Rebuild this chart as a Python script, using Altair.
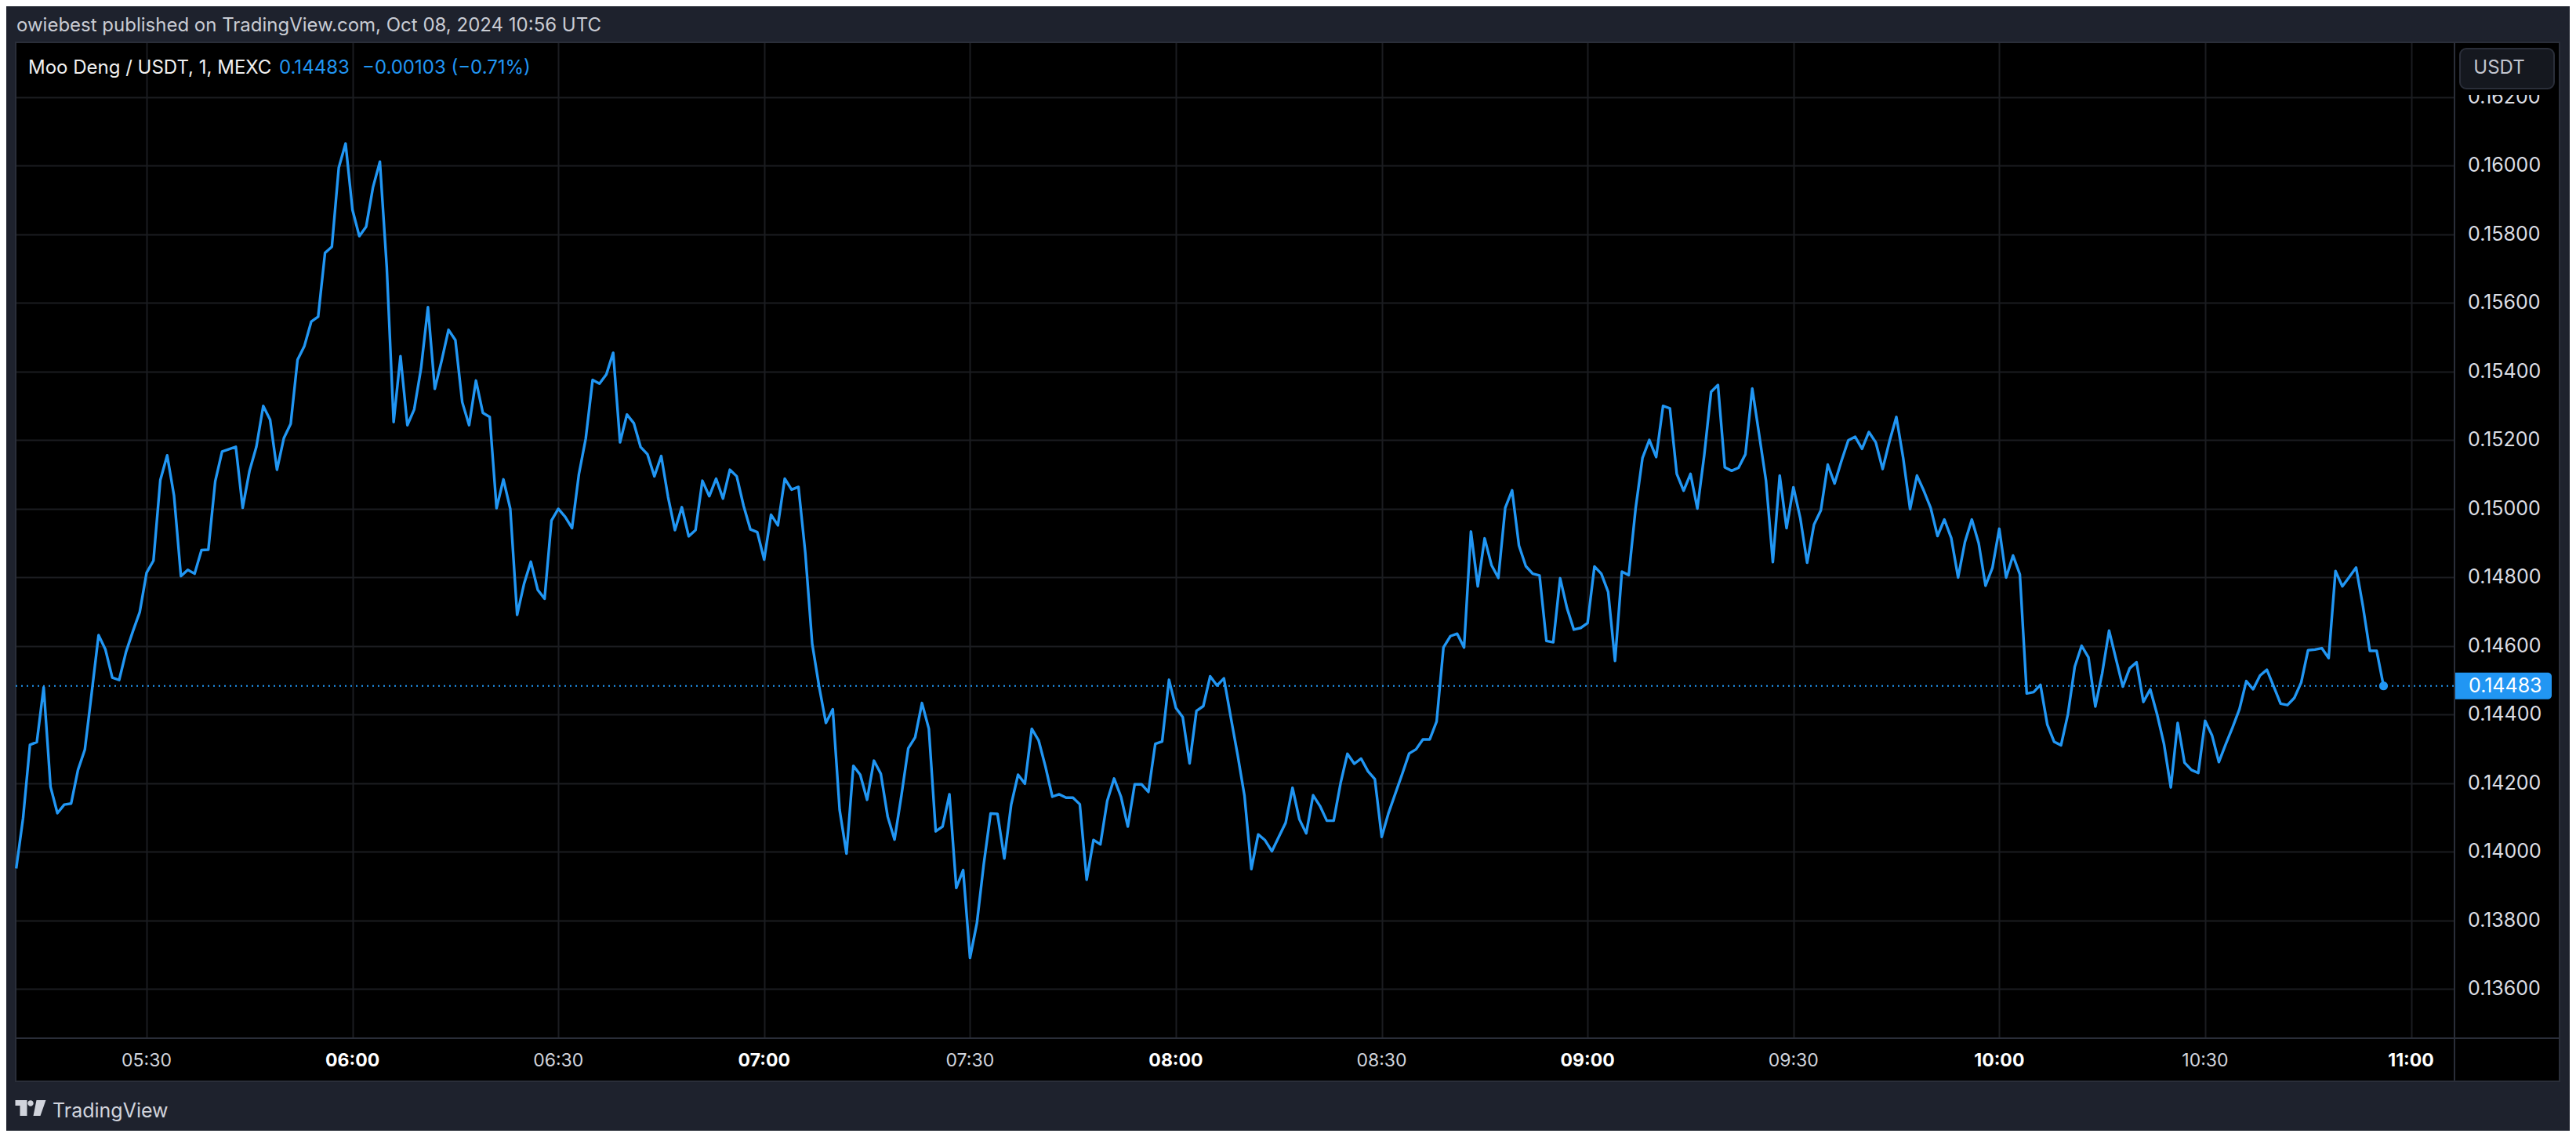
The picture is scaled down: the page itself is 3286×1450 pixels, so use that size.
import altair as alt
import pandas as pd

# ---------------- data (1-minute closes, Moo Deng / USDT, MEXC) ----------------
START_MINUTE = "05:11"
prices_05 = [0.13951, 0.14098, 0.14311, 0.14319, 0.14479, 0.14189, 0.14112, 0.14137, 0.14140, 0.14238,
             0.14297, 0.14463, 0.14631, 0.14589, 0.14507, 0.14500, 0.14582, 0.14642, 0.14698,
             0.14813, 0.14848, 0.15083, 0.15155, 0.15037, 0.14803, 0.14821, 0.14810, 0.14879, 0.14880,
             0.15079, 0.15166, 0.15173, 0.15180, 0.15002, 0.15110, 0.15180, 0.15299, 0.15259, 0.15113,
             0.15205, 0.15247, 0.15434, 0.15474, 0.15545, 0.15559, 0.15745, 0.15763, 0.15993, 0.16064]
prices_06 = [0.15871, 0.15794, 0.15822, 0.15937, 0.16011, 0.15703, 0.15252, 0.15444, 0.15243, 0.15289,
             0.15409, 0.15587, 0.15349, 0.15431, 0.15521, 0.15491, 0.15310, 0.15243, 0.15373, 0.15279,
             0.15267, 0.15001, 0.15085, 0.14999, 0.14690, 0.14780, 0.14845, 0.14763, 0.14737, 0.14965,
             0.14999, 0.14976, 0.14943, 0.15100, 0.15204, 0.15375, 0.15364, 0.15391, 0.15454, 0.15193,
             0.15274, 0.15249, 0.15179, 0.15158, 0.15094, 0.15153, 0.15033, 0.14937, 0.15004, 0.14919,
             0.14937, 0.15081, 0.15036, 0.15087, 0.15029, 0.15113, 0.15094, 0.15008, 0.14939, 0.14931]
prices_07 = [0.14851, 0.14982, 0.14951, 0.15087, 0.15055, 0.15063, 0.14870, 0.14606, 0.14482, 0.14375,
             0.14415, 0.14121, 0.13994, 0.14250, 0.14224, 0.14151, 0.14265, 0.14227, 0.14102, 0.14035,
             0.14163, 0.14301, 0.14333, 0.14433, 0.14358, 0.14059, 0.14073, 0.14167, 0.13894, 0.13946,
             0.13690, 0.13791, 0.13963, 0.14111, 0.14110, 0.13980, 0.14137, 0.14224, 0.14198, 0.14358,
             0.14324, 0.14247, 0.14160, 0.14167, 0.14157, 0.14157, 0.14138, 0.13918, 0.14034, 0.14021,
             0.14148, 0.14213, 0.14160, 0.14073, 0.14196, 0.14196, 0.14174, 0.14314, 0.14321, 0.14501]
prices_08 = [0.14419, 0.14392, 0.14257, 0.14410, 0.14424, 0.14511, 0.14484, 0.14505, 0.14392, 0.14282,
             0.14163, 0.13949, 0.14050, 0.14033, 0.14001, 0.14043, 0.14084, 0.14186, 0.14094, 0.14053,
             0.14164, 0.14133, 0.14090, 0.14090, 0.14199, 0.14285, 0.14256, 0.14271, 0.14234, 0.14211,
             0.14043, 0.14113, 0.14170, 0.14227, 0.14286, 0.14298, 0.14327, 0.14327, 0.14379, 0.14595,
             0.14628, 0.14635, 0.14595, 0.14933, 0.14773, 0.14913, 0.14835, 0.14798, 0.15002, 0.15053,
             0.14892, 0.14832, 0.14810, 0.14805, 0.14614, 0.14610, 0.14797, 0.14710, 0.14647, 0.14652]
prices_09 = [0.14666, 0.14831, 0.14810, 0.14757, 0.14556, 0.14816, 0.14806, 0.15000, 0.15147, 0.15200,
             0.15150, 0.15299, 0.15292, 0.15101, 0.15052, 0.15101, 0.15000, 0.15155, 0.15340, 0.15360,
             0.15120, 0.15110, 0.15119, 0.15158, 0.15350, 0.15216, 0.15082, 0.14844, 0.15096, 0.14943,
             0.15062, 0.14972, 0.14842, 0.14953, 0.14995, 0.15128, 0.15073, 0.15139, 0.15199, 0.15209,
             0.15174, 0.15223, 0.15193, 0.15115, 0.15196, 0.15267, 0.15147, 0.14998, 0.15096, 0.15052,
             0.15002, 0.14920, 0.14968, 0.14914, 0.14799, 0.14903, 0.14968, 0.14899, 0.14775, 0.14827]
prices_10 = [0.14941, 0.14799, 0.14863, 0.14808, 0.14461, 0.14465, 0.14486, 0.14370, 0.14320, 0.14310,
             0.14400, 0.14539, 0.14600, 0.14566, 0.14423, 0.14520, 0.14644, 0.14562, 0.14481, 0.14534,
             0.14552, 0.14436, 0.14473, 0.14400, 0.14314, 0.14187, 0.14375, 0.14259, 0.14238, 0.14229,
             0.14381, 0.14339, 0.14261, 0.14313, 0.14362, 0.14415, 0.14497, 0.14473, 0.14513, 0.14530,
             0.14481, 0.14431, 0.14427, 0.14448, 0.14493, 0.14587, 0.14589, 0.14593, 0.14564, 0.14818,
             0.14773, 0.14800, 0.14828, 0.14715, 0.14585, 0.14585, 0.14483]

last_price = 0.14483
header_text = "owiebest published on TradingView.com, Oct 08, 2024 10:56 UTC"
symbol_text = "Moo Deng / USDT, 1, MEXC"
last_text = "0.14483"
change_text = "\u22120.00103 (\u22120.71%)"
currency_text = "USDT"
brand_text = "TradingView"

time_labels = ["05:30", "06:00", "06:30", "07:00", "07:30", "08:00",
               "08:30", "09:00", "09:30", "10:00", "10:30", "11:00"]
price_ticks = [0.136, 0.138, 0.140, 0.142, 0.144, 0.146, 0.148,
               0.150, 0.152, 0.154, 0.156, 0.158, 0.160, 0.162]

# ---------------- tables ----------------
def to_min(s):
    h, m = s.split(":")
    return int(h) * 60 + int(m)

prices = prices_05 + prices_06 + prices_07 + prices_08 + prices_09 + prices_10
m0 = to_min(START_MINUTE)
line_df = pd.DataFrame({"minute": [m0 + i for i in range(len(prices))], "price": prices})
last_df = line_df.tail(1)
tick_df = pd.DataFrame({"minute": [to_min(t) for t in time_labels], "label": time_labels})
tick_df["bold"] = tick_df["minute"] % 60 == 0
ylab_df = pd.DataFrame({"v": price_ticks, "label": [f"{v:.5f}" for v in price_ticks]})
lp_df = pd.DataFrame({"p": [last_price], "label": [last_text]})
one = pd.DataFrame({"a": [0]})

# ---------------- geometry ----------------
W, H = 3111, 1270
BLUE = "#2196f3"
GRID = "#1b1c20"
PANEL_BORDER = "#2a2e39"
FONT = "Inter"

xs = alt.Scale(domain=[310.92, 666.34], nice=False, zero=False)
ys = alt.Scale(domain=[0.13456, 0.163589], nice=False, zero=False)
x_axis = alt.Axis(values=[to_min(t) for t in time_labels], grid=True, labels=False,
                  ticks=False, domain=False, title=None, gridColor=GRID, gridWidth=2)
y_axis = alt.Axis(values=price_ticks, grid=True, labels=False, ticks=False,
                  domain=False, title=None, gridColor=GRID, gridWidth=2)
X = alt.X("minute:Q", scale=xs, axis=x_axis)
Y = alt.Y("price:Q", scale=ys, axis=y_axis)


def box(x1, x2, y1, y2, color, **kw):
    return alt.Chart(one).mark_rect(color=color, **kw).encode(
        x=alt.value(x1), x2=alt.value(x2), y=alt.value(y1), y2=alt.value(y2))


def label(text, x, y, size=24, color="#d1d4dc", align="left", weight="normal"):
    return alt.Chart(one).mark_text(text=text, align=align, baseline="middle", font=FONT,
                                    fontSize=size, color=color, fontWeight=weight).encode(
        x=alt.value(x), y=alt.value(y))


line = alt.Chart(line_df).mark_line(color=BLUE, strokeWidth=3.4, strokeJoin="round").encode(x=X, y=Y)

dot = alt.Chart(last_df).mark_circle(color=BLUE, size=125, opacity=1).encode(x=X, y=Y)

price_rule = alt.Chart(lp_df).mark_rule(color=BLUE, strokeWidth=2, strokeDash=[2, 5]).encode(
    y=alt.Y("p:Q", scale=ys, axis=y_axis), x=alt.value(0), x2=alt.value(W))

# panel pieces outside the plot area
price_col = box(W, W + 134, 0, H + 55, "#000000")
time_row = box(0, W, H, H + 55, "#000000")
sep_v = alt.Chart(one).mark_rule(color=PANEL_BORDER, strokeWidth=2).encode(
    x=alt.value(W), y=alt.value(0), y2=alt.value(H + 55))
sep_h = alt.Chart(one).mark_rule(color=PANEL_BORDER, strokeWidth=2).encode(
    y=alt.value(H), x=alt.value(0), x2=alt.value(W + 134))
border = box(0, W + 134, 0, H + 55, PANEL_BORDER, filled=False, strokeWidth=2)

ylabels = alt.Chart(ylab_df).mark_text(align="left", baseline="middle", font=FONT,
                                       fontSize=25, color="#dcdee4").encode(
    y=alt.Y("v:Q", scale=ys, axis=y_axis), x=alt.value(W + 17), text="label:N")

tick_reg = alt.Chart(tick_df).transform_filter("!datum.bold").mark_text(
    align="center", baseline="middle", font=FONT, fontSize=23, color="#d1d4dc").encode(
    x=X, y=alt.value(H + 29), text="label:N")
tick_bold = alt.Chart(tick_df).transform_filter("datum.bold").mark_text(
    align="center", baseline="middle", font=FONT, fontSize=23, color="#ffffff",
    fontWeight="bold").encode(
    x=X, y=alt.value(H + 29), text="label:N")

lp_box = alt.Chart(lp_df).mark_rect(color=BLUE, yOffset=-17, y2Offset=17,
                                    cornerRadiusTopRight=5, cornerRadiusBottomRight=5).encode(
    y=alt.Y("p:Q", scale=ys, axis=y_axis), y2="p:Q", x=alt.value(W + 1), x2=alt.value(W + 124))
lp_text = alt.Chart(lp_df).mark_text(align="left", baseline="middle", font=FONT, fontSize=25,
                                     color="#ffffff").encode(
    y=alt.Y("p:Q", scale=ys, axis=y_axis), x=alt.value(W + 18), text="label:N")

mask = box(W + 2, W + 132, 1, 67, "#000000")
usdt_btn = box(W + 7, W + 127, 8, 59, "#15181f", stroke=PANEL_BORDER, strokeWidth=2, cornerRadius=8)
usdt_txt = label(currency_text, W + 57, 33, size=24, color="#c3c6cf", align="center")

header = label(header_text, 1, -21, size=24, color="#c9ccd4")
sym = label(symbol_text, 16, 33, size=24, color="#f0f0f0")
lastv = label(last_text, 336, 33, size=24, color=BLUE)
chg = label(change_text, 442, 33, size=24, color=BLUE)

logo_path = ("M-1,-0.513 L-0.231,-0.513 L-0.231,0.513 L-0.692,0.513 L-0.692,-0.154 L-1,-0.154 Z "
             "M-0.19,-0.308 A0.19,0.19 0 1,1 0.19,-0.308 A0.19,0.19 0 1,1 -0.19,-0.308 Z "
             "M0.385,-0.513 L1,-0.513 L0.641,0.513 L0.18,0.513 Z")
logo = alt.Chart(one).mark_point(shape=logo_path, filled=True, size=1521, color="#d1d4dc",
                                 opacity=1).encode(x=alt.value(19), y=alt.value(1359))
brand = label(brand_text, 47, 1363, size=25, color="#d1d4dc")

chart = alt.layer(
    price_col, time_row, sep_v, sep_h, border,
    line, price_rule, dot,
    ylabels, tick_reg, tick_bold,
    lp_box, lp_text,
    mask, usdt_btn, usdt_txt,
    header, sym, lastv, chg,
    logo, brand,
).properties(
    width=W, height=H,
    autosize=alt.AutoSizeParams(type="none"),
    padding={"left": 12, "top": 46, "right": 147, "bottom": 118},
    background="#1e222d",
).configure_view(fill="#000000", stroke=None)

chart.save("out.html", embed_options={"renderer": "svg", "actions": False})
